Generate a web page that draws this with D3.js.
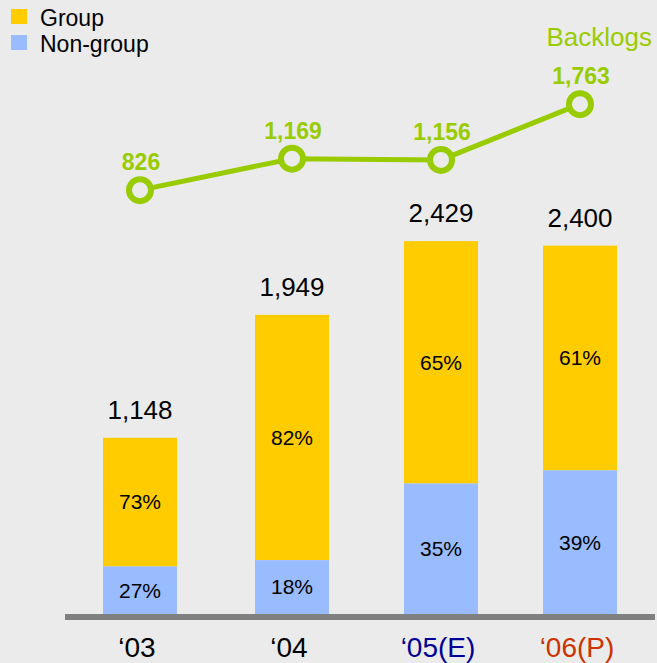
<!DOCTYPE html>
<html>
<head>
<meta charset="utf-8">
<script src="https://cdn.jsdelivr.net/npm/d3@7"></script>
<style>
  html, body { margin: 0; padding: 0; background: #ebebeb; }
  svg { display: block; font-family: "Liberation Sans", Arial, sans-serif; }
</style>
</head>
<body>
<svg id="chart"></svg>
<script>
// data
const years = ["\u201803", "\u201804", "\u201805(E)", "\u201806(P)"];
const yearColors = ["#000000", "#000000", "#000099", "#cc3300"];
const totals = [1148, 1949, 2429, 2400];
const groupPct = [73, 82, 65, 61];
const nonGroupPct = [27, 18, 35, 39];
const backlogs = [826, 1169, 1156, 1763];

const width = 657;
const height = 663;
const baseY = 614;

const yellow = "#ffcc00";
const blue = "#99bbff";
const green = "#99cc00";
const fmt = d3.format(",");

const svg = d3.select("#chart")
    .attr("width", width)
    .attr("height", height)
    .attr("viewBox", [0, 0, width, height]);

svg.append("rect")
    .attr("width", width)
    .attr("height", height)
    .attr("fill", "#ebebeb");

// scales (slide columns are not evenly spaced)
const x = d3.scaleOrdinal(years, [140, 292, 441, 580]);
const barW = 74;
const yBar = d3.scaleLinear([0, 2500], [baseY, baseY - 2500 * 0.1535]);
const yLine = d3.scaleLinear([0, 2000], [266, 82.4]);

const data = years.map((yr, i) => ({
    year: yr,
    total: totals[i],
    nonGroup: totals[i] * nonGroupPct[i] / 100,
    gPct: groupPct[i],
    nPct: nonGroupPct[i],
    backlog: backlogs[i]
}));

// bars
const bars = svg.append("g");
bars.selectAll(".group")
    .data(data)
    .join("rect")
    .attr("x", d => x(d.year) - barW / 2)
    .attr("y", d => yBar(d.total))
    .attr("width", barW)
    .attr("height", d => yBar(d.nonGroup) - yBar(d.total))
    .attr("fill", yellow);

bars.selectAll(".nongroup")
    .data(data)
    .join("rect")
    .attr("x", d => x(d.year) - barW / 2)
    .attr("y", d => yBar(d.nonGroup))
    .attr("width", barW)
    .attr("height", d => yBar(0) - yBar(d.nonGroup))
    .attr("fill", blue);

// percentage labels
svg.append("g").selectAll("text")
    .data(data)
    .join("text")
    .attr("x", d => x(d.year))
    .attr("y", d => (yBar(d.total) + yBar(d.nonGroup)) / 2)
    .attr("dy", "0.35em")
    .attr("text-anchor", "middle")
    .attr("font-size", 21)
    .text(d => d.gPct + "%");

svg.append("g").selectAll("text")
    .data(data)
    .join("text")
    .attr("x", d => x(d.year))
    .attr("y", d => (yBar(0) + yBar(d.nonGroup)) / 2)
    .attr("dy", "0.35em")
    .attr("text-anchor", "middle")
    .attr("font-size", 21)
    .text(d => d.nPct + "%");

// totals
svg.append("g").selectAll("text")
    .data(data)
    .join("text")
    .attr("x", d => x(d.year))
    .attr("y", d => yBar(d.total) - 19)
    .attr("text-anchor", "middle")
    .attr("font-size", 26)
    .text(d => fmt(d.total));

// baseline
svg.append("line")
    .attr("x1", 65)
    .attr("x2", 655)
    .attr("y1", baseY + 3)
    .attr("y2", baseY + 3)
    .attr("stroke", "#808080")
    .attr("stroke-width", 6);

// category labels
svg.append("g").selectAll("text")
    .data(years)
    .join("text")
    .attr("x", d => x(d) - 3)
    .attr("y", 657)
    .attr("text-anchor", "middle")
    .attr("font-size", 28)
    .attr("fill", (d, i) => yearColors[i])
    .text(d => d);

// backlog line
const line = d3.line()
    .x(d => x(d.year))
    .y(d => yLine(d.backlog));

svg.append("path")
    .attr("fill", "none")
    .attr("stroke", green)
    .attr("stroke-width", 5)
    .attr("d", line(data));

svg.append("g").selectAll("circle")
    .data(data)
    .join("circle")
    .attr("cx", d => x(d.year))
    .attr("cy", d => yLine(d.backlog))
    .attr("r", 11)
    .attr("fill", "#ebebeb")
    .attr("stroke", green)
    .attr("stroke-width", 6);

svg.append("g").selectAll("text")
    .data(data)
    .join("text")
    .attr("x", d => x(d.year) + 1)
    .attr("y", d => yLine(d.backlog) - 20)
    .attr("text-anchor", "middle")
    .attr("font-size", 23)
    .attr("font-weight", "bold")
    .attr("fill", green)
    .text(d => fmt(d.backlog));

svg.append("text")
    .attr("x", 652)
    .attr("y", 46)
    .attr("text-anchor", "end")
    .attr("font-size", 26)
    .attr("fill", green)
    .text("Backlogs");

// legend
const legend = svg.append("g");
[["Group", yellow], ["Non-group", blue]].forEach(([label, color], i) => {
    legend.append("rect")
        .attr("x", 11)
        .attr("y", 9 + i * 26)
        .attr("width", 16)
        .attr("height", 15)
        .attr("fill", color);
    legend.append("text")
        .attr("x", 40)
        .attr("y", 26 + i * 26)
        .attr("font-size", 23)
        .text(label);
});
</script>
</body>
</html>
